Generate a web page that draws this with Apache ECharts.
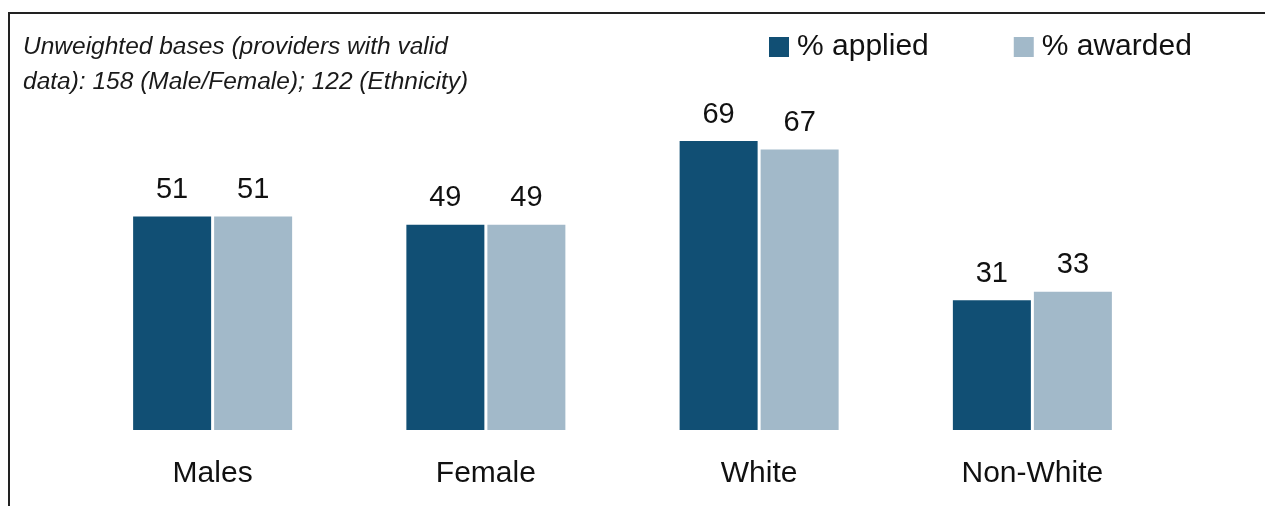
<!DOCTYPE html>
<html>
<head>
<meta charset="utf-8">
<style>
  html, body { margin: 0; padding: 0; background: #ffffff; }
  #chart { width: 1265px; height: 506px; }
</style>
<script src="https://cdn.jsdelivr.net/npm/echarts@6/dist/echarts.min.js"></script>
</head>
<body>
<div id="chart"></div>
<script>
// Share of applicants vs. awardees by group (%)
const categories = ['Males', 'Female', 'White', 'Non-White'];
const applied = [51, 49, 69, 31];
const awarded = [51, 49, 67, 33];
const seriesNames = ['% applied', '% awarded'];
const noteText = 'Unweighted bases (providers with valid\ndata): 158 (Male/Female); 122 (Ethnicity)';

const FONT = '"Liberation Sans", Arial, sans-serif';
const COLOR_APPLIED = '#114F74';
const COLOR_AWARDED = '#A2B9C9';

const chart = echarts.init(document.getElementById('chart'), null, { renderer: 'canvas' });

const valueLabel = {
  show: true,
  position: 'top',
  distance: 12,
  color: '#111',
  fontFamily: FONT,
  fontSize: 29
};

chart.setOption({
  animation: false,
  backgroundColor: '#ffffff',
  title: {
    text: noteText,
    left: 18,
    top: 25,
    textStyle: {
      fontFamily: FONT,
      fontStyle: 'italic',
      fontWeight: 'normal',
      fontSize: 24.5,
      lineHeight: 35,
      color: '#1a1a1a'
    }
  },
  legend: {
    data: seriesNames,
    left: 764,
    top: 27,
    itemWidth: 20,
    itemHeight: 20,
    itemGap: 85,
    icon: 'rect',
    textStyle: {
      fontFamily: FONT,
      fontSize: 30,
      color: '#111',
      padding: [0, 0, 0, 3]
    }
  },
  grid: {
    left: 76,
    right: 96,
    top: 95,
    bottom: 76,
    containLabel: false
  },
  xAxis: {
    type: 'category',
    data: categories,
    axisLine: { show: false },
    axisTick: { show: false },
    axisLabel: {
      margin: 29,
      color: '#111',
      fontFamily: FONT,
      fontSize: 30
    }
  },
  yAxis: {
    type: 'value',
    min: 0,
    max: 80,
    show: false,
    splitLine: { show: false }
  },
  graphic: [{
    type: 'polyline',
    shape: { points: [[9, 506], [9, 13], [1265, 13]] },
    style: { stroke: '#222', lineWidth: 2, fill: null },
    silent: true
  }],
  series: [
    {
      name: seriesNames[0],
      type: 'bar',
      data: applied,
      barWidth: 78,
      barGap: '3.85%',
      itemStyle: { color: COLOR_APPLIED },
      label: valueLabel
    },
    {
      name: seriesNames[1],
      type: 'bar',
      data: awarded,
      barWidth: 78,
      itemStyle: { color: COLOR_AWARDED },
      label: valueLabel
    }
  ]
});
</script>
</body>
</html>
